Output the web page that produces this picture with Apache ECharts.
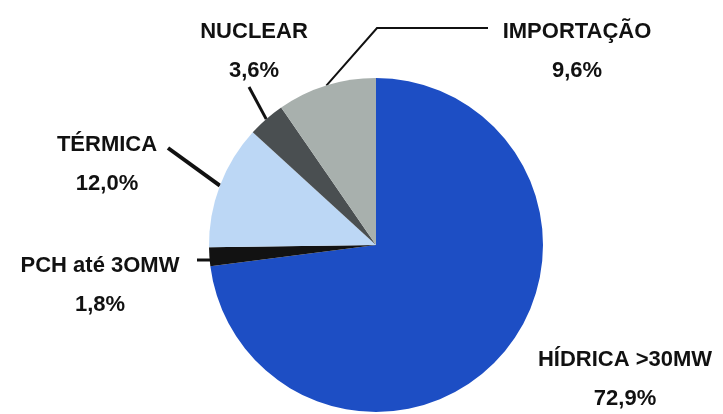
<!DOCTYPE html>
<html>
<head>
<meta charset="utf-8">
<script src="https://cdn.jsdelivr.net/npm/echarts@6/dist/echarts.min.js"></script>
<style>
html,body{margin:0;padding:0;background:#fff;}
#chart{width:723px;height:414px;}
</style>
</head>
<body>
<div id="chart"></div>
<script>
// Data
const categories = ['HÍDRICA >30MW', 'PCH até 3OMW', 'TÉRMICA', 'NUCLEAR', 'IMPORTAÇÃO'];
const values = [72.9, 1.8, 12.0, 3.6, 9.6];

// Styles / layout (not data)
const colors = ['#1d4ec4', '#121212', '#bcd7f5', '#4a4f51', '#a8b0ad'];
// label centre positions [x, y] and label-line bend/end points
const labelCenters = [[625, 379], [100, 285], [107, 164], [254, 51], [577, 51]];
const lineRoutes = [
  null,
  [[197, 260], [197, 260]],
  [[168, 148], [168, 148]],
  [[249, 87], [249, 87]],
  [[377, 28], [488, 28]]
];
const lineWidths = [0, 3, 4, 3, 2];

const chart = echarts.init(document.getElementById('chart'), null, {renderer: 'canvas'});
const data = categories.map((c, i) => ({
  name: c,
  value: values[i],
  itemStyle: {color: colors[i]},
  labelLine: {show: i !== 0, lineStyle: {color: '#111', width: lineWidths[i]}}
}));

chart.setOption({
  animation: false,
  backgroundColor: '#fff',
  series: [{
    type: 'pie',
    center: [376, 245],
    radius: [0, 167],
    startAngle: 90,
    clockwise: true,
    avoidLabelOverlap: false,
    data: data,
    itemStyle: {borderWidth: 0},
    label: {
      show: true,
      position: 'outside',
      formatter: p => p.name + '\n' + p.value.toFixed(1).replace('.', ',') + '%',
      color: '#111',
      fontFamily: 'Liberation Sans, Arial, sans-serif',
      fontWeight: 'bold',
      fontSize: 22,
      lineHeight: 39,
      align: 'center'
    },
    labelLine: {show: true, length: 10, length2: 10, smooth: false},
    emphasis: {disabled: true}
  }]
});

chart.setOption({
  series: [{
    labelLayout: function (params) {
      const i = params.dataIndex;
      const c = labelCenters[i];
      const out = {x: c[0], y: c[1], align: 'center', verticalAlign: 'middle'};
      if (lineRoutes[i] && params.labelLinePoints) {
        let start = params.labelLinePoints[0];
        if (i === 1) start = [start[0] + 2, lineRoutes[i][0][1]];
        out.labelLinePoints = [start, lineRoutes[i][0], lineRoutes[i][1]];
      }
      return out;
    }
  }]
});
</script>
</body>
</html>
